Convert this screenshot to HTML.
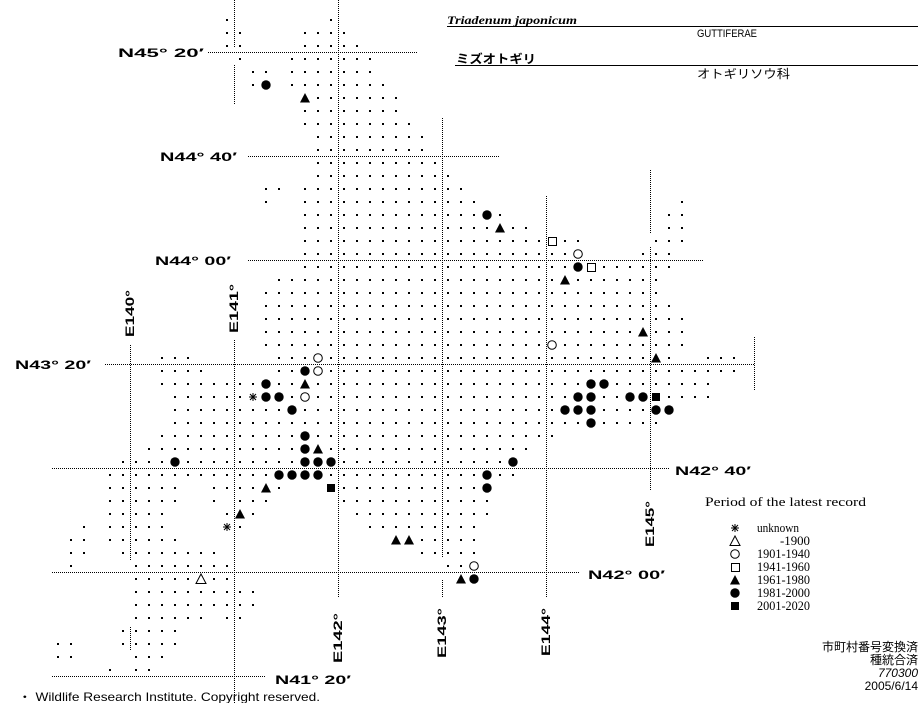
<!DOCTYPE html>
<html><head><meta charset="utf-8"><style>
html,body{margin:0;padding:0;background:#fff;}
svg{display:block;}
.lb{font-family:"Liberation Sans",sans-serif;font-weight:bold;font-size:12px;}
.lg{font-family:"Liberation Serif","Noto Serif CJK SC",serif;font-size:13px;}
</style></head><body>
<svg id="s" xmlns="http://www.w3.org/2000/svg" width="923" height="703" viewBox="0 0 923 703">
<rect width="923" height="703" fill="#fff"/>
<g id="lines" stroke="#000" stroke-width="1" stroke-dasharray="1 1" fill="none"></g>
<g id="dots" fill="#000"></g>
<g id="syms"></g>
<!-- title -->
<text x="447" y="24" font-family="Liberation Serif,serif" font-style="italic" font-weight="bold" font-size="12" textLength="130" lengthAdjust="spacingAndGlyphs">Triadenum japonicum</text>
<line x1="447" y1="26.5" x2="918" y2="26.5" stroke="#000"/>
<text x="697" y="37" font-family="Liberation Sans,sans-serif" font-size="11" textLength="60" lengthAdjust="spacingAndGlyphs">GUTTIFERAE</text>
<text x="456" y="63" font-family="Liberation Sans,'Noto Sans CJK JP',sans-serif" font-weight="bold" font-size="12" textLength="80" lengthAdjust="spacingAndGlyphs">ミズオトギリ</text>
<line x1="455" y1="65.5" x2="918" y2="65.5" stroke="#000"/>
<text x="697" y="78" font-family="Liberation Sans,'Noto Sans CJK JP',sans-serif" font-size="12" textLength="93" lengthAdjust="spacingAndGlyphs">オトギリソウ科</text>
<!-- lat labels -->
<text class="lb" x="118" y="57" textLength="86" lengthAdjust="spacingAndGlyphs">N45° 20′</text>
<text class="lb" x="160" y="161" textLength="77" lengthAdjust="spacingAndGlyphs">N44° 40′</text>
<text class="lb" x="155" y="265" textLength="76" lengthAdjust="spacingAndGlyphs">N44° 00′</text>
<text class="lb" x="15" y="369" textLength="76" lengthAdjust="spacingAndGlyphs">N43° 20′</text>
<text class="lb" x="675" y="475" textLength="76" lengthAdjust="spacingAndGlyphs">N42° 40′</text>
<text class="lb" x="588" y="579" textLength="77" lengthAdjust="spacingAndGlyphs">N42° 00′</text>
<text class="lb" x="275" y="684" textLength="76" lengthAdjust="spacingAndGlyphs">N41° 20′</text>
<!-- lon labels -->
<text class="lb" transform="translate(134,337) rotate(-90)" textLength="47" lengthAdjust="spacingAndGlyphs">E140°</text>
<text class="lb" transform="translate(238,333) rotate(-90)" textLength="49" lengthAdjust="spacingAndGlyphs">E141°</text>
<text class="lb" transform="translate(342,663) rotate(-90)" textLength="50" lengthAdjust="spacingAndGlyphs">E142°</text>
<text class="lb" transform="translate(446,658) rotate(-90)" textLength="50" lengthAdjust="spacingAndGlyphs">E143°</text>
<text class="lb" transform="translate(550,656) rotate(-90)" textLength="48" lengthAdjust="spacingAndGlyphs">E144°</text>
<text class="lb" transform="translate(654,547) rotate(-90)" textLength="46" lengthAdjust="spacingAndGlyphs">E145°</text>
<!-- legend -->
<text class="lg" x="705" y="506" textLength="161" lengthAdjust="spacingAndGlyphs">Period of the latest record</text>
<g id="leg"></g>
<text class="lg" x="757" y="532" textLength="42" lengthAdjust="spacingAndGlyphs">unknown</text>
<text class="lg" x="780" y="545" textLength="30" lengthAdjust="spacingAndGlyphs">-1900</text>
<text class="lg" x="757" y="558" textLength="53" lengthAdjust="spacingAndGlyphs">1901-1940</text>
<text class="lg" x="757" y="571" textLength="53" lengthAdjust="spacingAndGlyphs">1941-1960</text>
<text class="lg" x="757" y="584" textLength="53" lengthAdjust="spacingAndGlyphs">1961-1980</text>
<text class="lg" x="757" y="597" textLength="53" lengthAdjust="spacingAndGlyphs">1981-2000</text>
<text class="lg" x="757" y="610" textLength="53" lengthAdjust="spacingAndGlyphs">2001-2020</text>
<!-- bottom right -->
<g font-family="Liberation Sans,'Noto Sans CJK JP',sans-serif" font-size="12" text-anchor="end">
<text x="918" y="651">市町村番号変換済</text>
<text x="918" y="664">種統合済</text>
<text x="918" y="677" font-style="italic">770300</text>
<text x="918" y="690">2005/6/14</text>
</g>
<text x="18" y="701" font-family="Liberation Sans,'Noto Sans CJK JP',sans-serif" font-size="12" textLength="302" lengthAdjust="spacingAndGlyphs">・ Wildlife Research Institute. Copyright reserved.</text>
</svg>
<script>
(function(){
var NS="http://www.w3.org/2000/svg";
function el(p,n,a){var e=document.createElementNS(NS,n);for(var k in a)e.setAttribute(k,a[k]);p.appendChild(e);return e;}
var L=document.getElementById("lines");
var H=[[52,208,417],[156,248,500],[260,248,703],[364,105,755],[468,52,670],[572,52,580],[676,52,265]];
H.forEach(function(h){el(L,"line",{x1:h[1],y1:h[0]+0.5,x2:h[2],y2:h[0]+0.5});});
var V=[[130,345,560],[130,627,650],[234,0,48],[234,65,105],[234,340,703],[338,0,598],[442,118,558],[442,580,598],[546,196,598],[650,170,233],[650,247,490],[754,337,390]];
V.forEach(function(v){el(L,"line",{x1:v[0]+0.5,y1:v[1],x2:v[0]+0.5,y2:v[2]});});
var R={0:[[0,0],[8,8]],1:[[0,1],[6,9]],2:[[0,1],[6,10]],3:[[1,1],[5,11]],4:[[2,3],[5,11]],5:[[2,3],[5,12]],
6:[[6,13]],7:[[6,13]],8:[[6,14]],9:[[7,15]],10:[[7,15]],11:[[7,16]],12:[[7,17]],
13:[[3,4],[6,18]],14:[[3,3],[6,19],[35,35]],15:[[6,21],[34,35]],16:[[6,23],[34,35]],17:[[6,27],[33,35]],18:[[6,27],[32,34]],19:[[6,34]],
20:[[4,33]],21:[[3,33]],22:[[3,34]],23:[[3,35]],24:[[3,35]],25:[[3,35]],26:[[-5,-3],[4,34],[37,39]],27:[[-5,-2],[4,39]],
28:[[-5,37]],29:[[-4,37]],30:[[-4,34]],31:[[-4,33]],32:[[-5,25]],33:[[-6,23]],34:[[-8,22]],35:[[-9,22]],
36:[[-9,-4],[-1,4],[8,20]],37:[[-9,-4],[-1,-1],[1,3],[9,20]],38:[[-9,-5],[0,2],[10,20]],39:[[-11,-11],[-9,-5],[0,1],[11,19]],
40:[[-12,-11],[-9,-4],[13,19]],41:[[-12,-11],[-8,-1],[15,19]],42:[[-12,-12],[-7,0],[17,19]],43:[[-7,0],[18,19]],
44:[[-7,2]],45:[[-7,2]],46:[[-7,-2],[0,1]],47:[[-8,-4]],48:[[-13,-12],[-8,-4]],49:[[-13,-12],[-7,-5]],50:[[-9,-9],[-7,-6]]};
var S=[[3,5,"F"],[6,6,"T"],[20,15,"F"],[21,16,"T"],[25,17,"s"],[27,18,"O"],[27,19,"F"],[28,19,"s"],[26,20,"T"],[32,24,"T"],[25,25,"O"],[33,26,"T"],
[7,26,"O"],[6,27,"F"],[7,27,"O"],[3,28,"F"],[6,28,"T"],[2,29,"*"],[3,29,"F"],[4,29,"F"],[6,29,"O"],[5,30,"F"],
[28,28,"F"],[29,28,"F"],[27,29,"F"],[28,29,"F"],[31,29,"F"],[32,29,"F"],[33,29,"Q"],[26,30,"F"],[27,30,"F"],[28,30,"F"],[33,30,"F"],[34,30,"F"],[28,31,"F"],
[6,32,"F"],[6,33,"F"],[7,33,"T"],[6,34,"F"],[7,34,"F"],[8,34,"F"],[-4,34,"F"],[4,35,"F"],[5,35,"F"],[6,35,"F"],[7,35,"F"],[22,34,"F"],[20,35,"F"],[20,36,"F"],
[3,36,"T"],[8,36,"Q"],[1,38,"T"],[0,39,"*"],[13,40,"T"],[14,40,"T"],[19,42,"O"],[18,43,"T"],[19,43,"F"],[-2,43,"t"]];
function X(k){return 227+13*k;}function Y(j){return 19.7+13*j;}
var occ={};S.forEach(function(s){occ[s[0]+","+s[1]]=1;});
var D=document.getElementById("dots");
for(var j in R){R[j].forEach(function(r){for(var k=r[0];k<=r[1];k++){if(occ[k+","+j])continue;el(D,"rect",{x:X(k)-1,y:Math.round(Y(+j))-1,width:2,height:2});}});}
var G=document.getElementById("syms");
function sym(g,t,x,y){
 if(t=="F")el(g,"circle",{cx:x,cy:y,r:4.7,fill:"#000"});
 else if(t=="O")el(g,"circle",{cx:x,cy:y,r:4.3,fill:"#fff",stroke:"#000","stroke-width":1});
 else if(t=="T")el(g,"polygon",{points:(x-5)+","+(y+4.5)+" "+(x+5)+","+(y+4.5)+" "+x+","+(y-5),fill:"#000"});
 else if(t=="t")el(g,"polygon",{points:(x-5)+","+(y+4.5)+" "+(x+5)+","+(y+4.5)+" "+x+","+(y-5),fill:"#fff",stroke:"#000","stroke-width":1});
 else if(t=="Q")el(g,"rect",{x:x-4,y:y-4,width:8,height:8,fill:"#000"});
 else if(t=="s")el(g,"rect",{x:x-3.5,y:y-3.5,width:8,height:8,fill:"#fff",stroke:"#000","stroke-width":1});
 else if(t=="*"){var a={stroke:"#000","stroke-width":1};el(g,"line",Object.assign({x1:x-4,y1:y,x2:x+4,y2:y},a));el(g,"line",Object.assign({x1:x,y1:y-4,x2:x,y2:y+4},a));el(g,"line",Object.assign({x1:x-3,y1:y-3,x2:x+3,y2:y+3},a));el(g,"line",Object.assign({x1:x-3,y1:y+3,x2:x+3,y2:y-3},a));}
}
S.forEach(function(s){sym(G,s[2],X(s[0]),Math.round(Y(s[1])));});
var LG=document.getElementById("leg");
["*","t","O","s","T","F","Q"].forEach(function(t,i){sym(LG,t,735,528+13*i);});
})();
</script>
</body></html>
